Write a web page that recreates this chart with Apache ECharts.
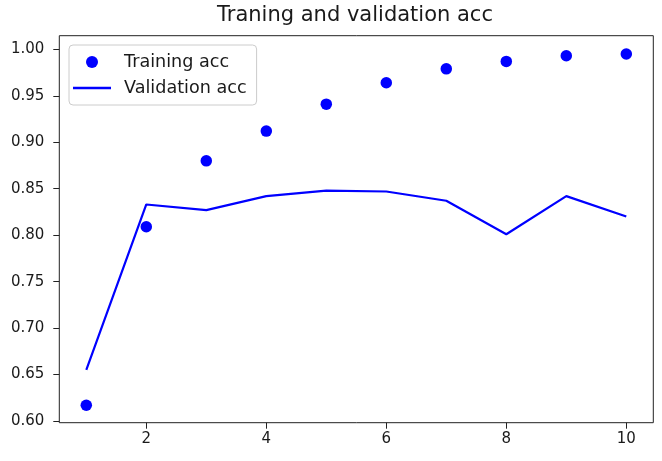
<!DOCTYPE html>
<html>
<head>
<meta charset="utf-8">
<script src="https://cdn.jsdelivr.net/npm/echarts@6/dist/echarts.min.js"></script>
<style>html,body{margin:0;padding:0;background:#fff;}#c{width:662px;height:461px;}</style>
</head>
<body>
<div id="c"></div>
<script>
const epochs = [1, 2, 3, 4, 5, 6, 7, 8, 9, 10];
const trainingAcc = [0.617, 0.809, 0.880, 0.912, 0.941, 0.964, 0.979, 0.987, 0.993, 0.995];
const validationAcc = [0.655, 0.833, 0.827, 0.842, 0.848, 0.847, 0.837, 0.801, 0.842, 0.820];
const yTicks = [0.60, 0.65, 0.70, 0.75, 0.80, 0.85, 0.90, 0.95, 1.00];
const xTicks = [2, 4, 6, 8, 10];

const FONT = 'DejaVu Sans';
const chart = echarts.init(document.getElementById('c'), null, {renderer: 'canvas'});
chart.setOption({
  animation: false,
  backgroundColor: '#ffffff',
  title: {
    text: 'Traning and validation acc',
    left: 355, top: 5, textAlign: 'center', padding: 0,
    textStyle: {fontFamily: FONT, fontSize: 21, fontWeight: 'normal', color: '#1a1a1a'}
  },
  grid: {
    left: 59.3, right: 8.7, top: 35.7, bottom: 38.3,
    show: true, borderColor: '#222', borderWidth: 1, backgroundColor: 'transparent'
  },
  legend: {
    left: 69, top: 45, orient: 'vertical',
    padding: [8, 10, 8, 4],
    itemWidth: 38, itemHeight: 12, itemGap: 8,
    borderColor: '#cccccc', borderWidth: 1, borderRadius: 4,
    backgroundColor: 'rgba(255,255,255,0.8)',
    textStyle: {fontFamily: FONT, fontSize: 17.6, color: '#1a1a1a', padding: [0, 0, 0, 8]},
    data: [
      {name: 'Training acc', icon: 'circle'},
      {name: 'Validation acc', icon: 'path://M0,0L38,0L38,2.5L0,2.5Z'}
    ]
  },
  xAxis: {
    type: 'value', min: 0.55, max: 10.45,
    axisLine: {show: false},
    splitLine: {show: false},
    axisTick: {show: true, length: 6, inside: false, customValues: xTicks, lineStyle: {color: '#222'}},
    axisLabel: {show: true, margin: 9, customValues: xTicks, fontFamily: FONT, fontSize: 15, color: '#1a1a1a',
      formatter: v => String(v)}
  },
  yAxis: {
    type: 'value', min: 0.59817, max: 1.01464,
    axisLine: {show: false},
    splitLine: {show: false},
    axisTick: {show: true, length: 6, inside: false, customValues: yTicks, lineStyle: {color: '#222'}},
    axisLabel: {show: true, margin: 15, customValues: yTicks, fontFamily: FONT, fontSize: 15, color: '#1a1a1a',
      formatter: v => v.toFixed(2)}
  },
  series: [
    {
      name: 'Training acc', type: 'scatter',
      data: epochs.map((e, i) => [e, trainingAcc[i]]),
      symbol: 'circle', symbolSize: 11.5,
      itemStyle: {color: '#0000ff', opacity: 1}
    },
    {
      name: 'Validation acc', type: 'line',
      data: epochs.map((e, i) => [e, validationAcc[i]]),
      showSymbol: false, symbol: 'none',
      lineStyle: {color: '#0000ff', width: 2.2, opacity: 1},
      itemStyle: {color: '#0000ff'}
    }
  ]
});
</script>
</body>
</html>
